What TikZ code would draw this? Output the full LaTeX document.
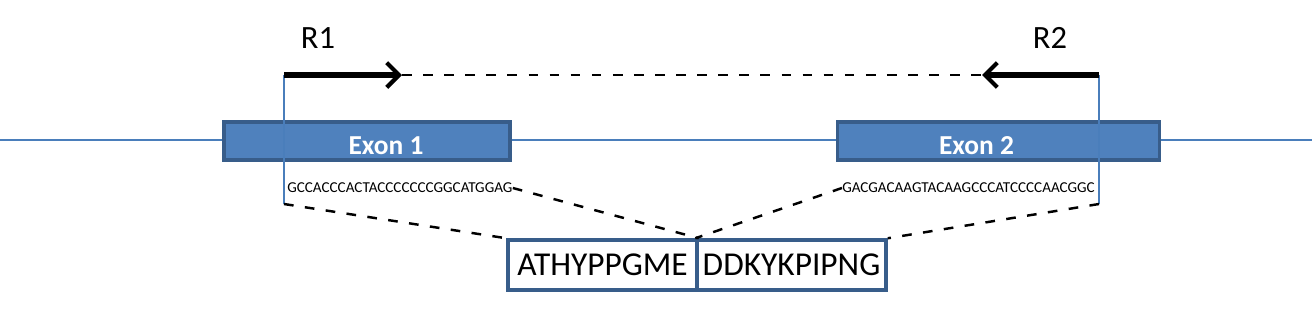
\documentclass[tikz,border=0pt]{standalone}
\usepackage{fontspec}
\setmainfont{Carlito}
\usetikzlibrary{arrows.meta,calc}

\definecolor{strandblue}{RGB}{74,126,187}
\definecolor{exonfill}{RGB}{79,129,189}
\definecolor{exonedge}{RGB}{56,93,138}

\tikzstyle{exonblock} = [rectangle, minimum height=0.76cm, inner sep=0pt, draw=exonedge, line width=1.8pt, fill=exonfill]
\tikzstyle{exonlabel} = [inner sep=0pt, text=white, font=\fontsize{15.6}{18}\selectfont\bfseries]
\tikzstyle{pepblock} = [rectangle, minimum width=3.78cm, minimum height=1.0cm, inner sep=0pt, draw=exonedge, line width=2pt, font=\fontsize{19}{22}\selectfont]
\tikzstyle{seqlabel} = [inner sep=0pt, font=\fontsize{8.6}{10}\selectfont]
\tikzstyle{primerlabel} = [inner sep=0pt, font=\fontsize{18.5}{22}\selectfont]
\tikzstyle{strand} = [-, draw=strandblue, line width=0.95pt]
\tikzstyle{primer} = [-{Straight Barb[length=7pt,width=14pt,line width=2.4pt]}, line width=2.9pt]
\tikzstyle{gap} = [-, dash pattern=on 5.5pt off 6.5pt, line width=1.4pt]

\begin{document}
\begin{tikzpicture}[x=0.02cm, y=-0.02cm]
    \useasboundingbox (0,0) rectangle (1312,309);

    \coordinate (strandL) at (0,140);
    \coordinate (strandR) at (1312,140);
    \coordinate (r1tail) at (284,75);
    \coordinate (r1tip) at (402,75);
    \coordinate (r2tail) at (1099,75);
    \coordinate (r2tip) at (982,75);
    \coordinate (r1foot) at (284,204);
    \coordinate (r2foot) at (1099,204);

    \draw [strand] (strandL) -- (strandR);

    \node (exonA) [exonblock, minimum width=5.72cm] at (367,141) {};
    \node (exonB) [exonblock, minimum width=6.44cm] at (998.5,141) {};
    \node (exonAtxt) [exonlabel] at ($(exonA)+(19,5)$) {Exon 1};
    \node (exonBtxt) [exonlabel] at ($(exonB)+(-22,5)$) {Exon 2};

    \node (r1lbl) [primerlabel] at (318,38) {R1};
    \node (r2lbl) [primerlabel] at (1050,38) {R2};

    \node (seqA) [seqlabel, anchor=west] at (287,188) {GCCACCCACTACCCCCCCGGCATGGAG};
    \node (seqB) [seqlabel, anchor=east] at (1095,188) {GACGACAAGTACAAGCCCATCCCCAACGGC};

    \node (pepA) [pepblock] at (602.5,265) {ATHYPPGME};
    \node (pepB) [pepblock] at (791.5,265) {DDKYKPIPNG};

    \draw [strand] (r1tail) -- (r1foot);
    \draw [strand] (r2tail) -- (r2foot);
    \draw [primer] (r1tail) -- (r1tip);
    \draw [primer] (r2tail) -- (r2tip);
    \draw [gap] (r1tip) -- (r2tip);

    \draw [gap] (r1foot) -- (pepA.north west);
    \draw [gap] (seqA.east) -- (pepA.north east);
    \draw [gap] (seqB.west) -- (pepB.north west);
    \draw [gap] (r2foot) -- (pepB.north east);
\end{tikzpicture}
\end{document}
